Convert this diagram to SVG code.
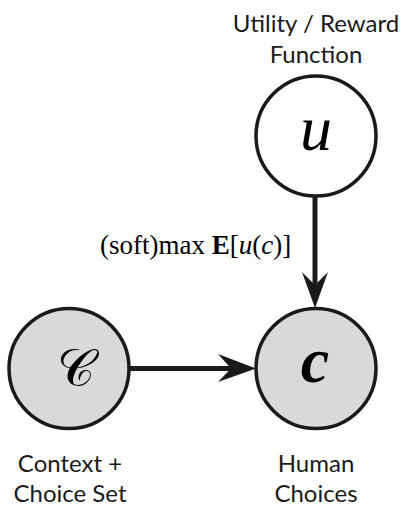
<svg xmlns="http://www.w3.org/2000/svg" width="402" height="506" viewBox="0 0 402 506">
<style>
.node{stroke:#1a1a1a;stroke-width:3.5}
.obs{fill:#d9d9d9}
.lat{fill:#ffffff}
.lbl{font-family:Lato,"Liberation Sans",sans-serif;font-size:24px;fill:#1a1a1a;text-anchor:middle}
.math{font-family:"Liberation Serif","DejaVu Serif",serif;fill:#000}
.edge{stroke:#1a1a1a;stroke-width:5;fill:none}
.head{fill:#1a1a1a}
</style>
<rect width="402" height="506" fill="#fff"/>
<g id="edges">
<line class="edge" x1="315" y1="197" x2="315" y2="290"/>
<polygon class="head" points="315,308 328,272 315,285 302,272"/>
<line class="edge" x1="129" y1="368.5" x2="236" y2="368.5"/>
<polygon class="head" points="256,368.5 218,354 231,368.5 218,382"/>
<text class="math" x="100" y="254" font-size="27">(soft)max <tspan font-weight="bold">E</tspan>[<tspan font-style="italic">u</tspan>(<tspan font-style="italic">c</tspan>)]</text>
</g>
<g id="node-u">
<circle class="node lat" cx="316" cy="136" r="60"/>
<text class="math" x="316" y="150" font-size="64" font-style="italic" text-anchor="middle">u</text>
<text class="lbl" x="316" y="32">Utility / Reward</text>
<text class="lbl" x="316" y="63">Function</text>
</g>
<g id="node-c">
<circle class="node obs" cx="316" cy="368.5" r="60"/>
<text class="math" x="315" y="382" font-size="64" font-style="italic" font-weight="bold" text-anchor="middle">c</text>
<text class="lbl" x="316" y="472">Human</text>
<text class="lbl" x="316" y="502">Choices</text>
</g>
<g id="node-C">
<circle class="node obs" cx="69" cy="368.5" r="60"/>
<text class="math" x="76" y="386" font-size="52" text-anchor="middle">𝒞</text>
<text class="lbl" x="70" y="472">Context +</text>
<text class="lbl" x="70" y="502">Choice Set</text>
</g>
</svg>
